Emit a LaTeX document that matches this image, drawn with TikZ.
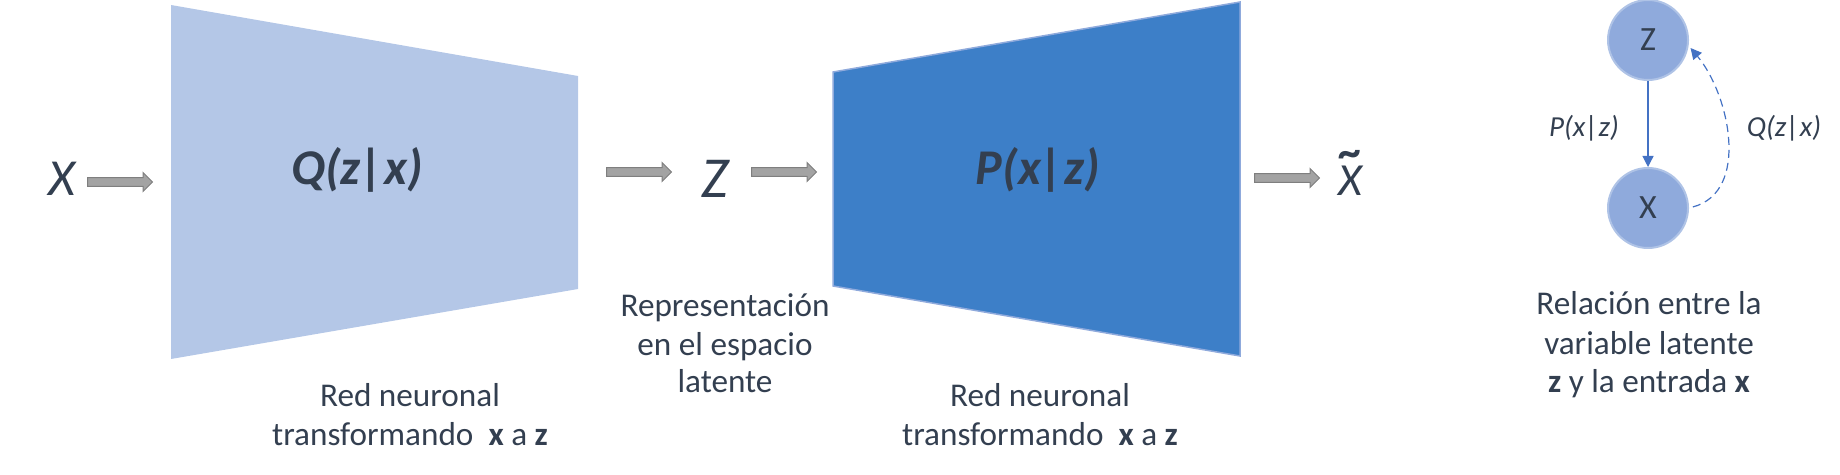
\documentclass[tikz,border=0pt]{standalone}
\usepackage{fontspec}
\setmainfont{Carlito}
\usetikzlibrary{shapes.arrows,arrows.meta}
\definecolor{txt}{HTML}{333F50}
\definecolor{lightblue}{HTML}{B4C7E7}
\definecolor{darkblue}{HTML}{3D7FC8}
\definecolor{edgeblue}{HTML}{8FAADC}
\definecolor{nodeblue}{HTML}{8FAADC}
\definecolor{nodeedge}{HTML}{AFC3E6}
\definecolor{linkblue}{HTML}{4472C4}
\definecolor{arrowfill}{HTML}{A3A3A3}
\definecolor{arrowdraw}{HTML}{7F7F7F}
\tikzset{
  garrow/.style={single arrow, draw=arrowdraw, fill=arrowfill, line width=0.5pt,
    inner sep=0pt, inner ysep=1.925pt, single arrow head extend=2.5pt,
    minimum height=32.5pt, anchor=west},
  bigvar/.style={text=txt, anchor=base, inner sep=0pt, font=\fontsize{26}{31}\selectfont\itshape},
  netlabel/.style={text=txt, anchor=base, inner sep=0pt, font=\fontsize{25}{30}\selectfont\bfseries\itshape},
  caption/.style={text=txt, anchor=base, inner sep=0pt, font=\fontsize{16.6}{20}\selectfont},
  small/.style={text=txt, anchor=base, inner sep=0pt, font=\fontsize{14.5}{17}\selectfont\itshape},
  latent/.style={circle, fill=nodeblue, draw=nodeedge, line width=1pt, minimum size=40pt,
    inner sep=0pt, text=txt, font=\fontsize{17}{20}\selectfont},
  link/.style={draw=linkblue, line width=0.6pt, -{Triangle[width=5.5pt,length=5.5pt]}}
}
\begin{document}
\begin{tikzpicture}[x=0.5pt,y=-0.5pt]
\useasboundingbox (0,0) rectangle (1840,475);
% trapezoids
\fill[lightblue] (171,5) -- (578,76) -- (578,289) -- (171,359) -- cycle;
\filldraw[fill=darkblue, draw=edgeblue, line width=0.75pt] (833,72) -- (1240,2) -- (1240,356) -- (833,286) -- cycle;
\node[netlabel] (q) at (357,185) {Q(z|x)};
\node[netlabel] (p) at (1038,185) {P(x|z)};
% variables
\node[bigvar] (x) at (62,196) {X};
\node[bigvar, font=\fontsize{29}{34}\selectfont\itshape] (z) at (715,198) {Z};
\node[bigvar, font=\fontsize{23}{28}\selectfont\itshape] (xt) at (1350,196) {X\llap{\raisebox{0.62em}{\bfseries\textasciitilde}\kern-0.02em}};
% block arrows
\node[garrow] (a1) at (87,182) {};
\node[garrow] (a2) at (606,172) {};
\node[garrow] (a3) at (751,172) {};
\node[garrow] (a4) at (1254,178) {};
% captions
\node[caption] (c1a) at (410,406) {Red neuronal};
\node[caption] (c1b) at (410,445) {transformando\ \ \textbf{x} a \textbf{z}};
\node[caption] (c2a) at (1040,406) {Red neuronal};
\node[caption] (c2b) at (1040,445) {transformando\ \ \textbf{x} a \textbf{z}};
\node[caption] (c3a) at (725,317) {Representación};
\node[caption] (c3b) at (725,356) {en el espacio};
\node[caption] (c3c) at (725,393) {latente};
\node[caption] (c4a) at (1649,315) {Relación entre la};
\node[caption] (c4b) at (1649,355) {variable latente};
\node[caption] (c4c) at (1649,393) {\textbf{z} y la entrada \textbf{x}};
% graphical model
\node[latent] (zn) at (1648,40) {Z};
\node[latent] (xn) at (1648,208) {X};
\draw[link] (zn) -- (xn);
\draw[link, dash pattern=on 4pt off 2.5pt, shorten >=1.5pt, shorten <=2pt] (xn.east) to[out=15,in=-50] (zn.-8);
\node[small] (pl) at (1584,137) {P(x|z)};
\node[small] (ql) at (1784,137) {Q(z|x)};
\end{tikzpicture}
\end{document}
